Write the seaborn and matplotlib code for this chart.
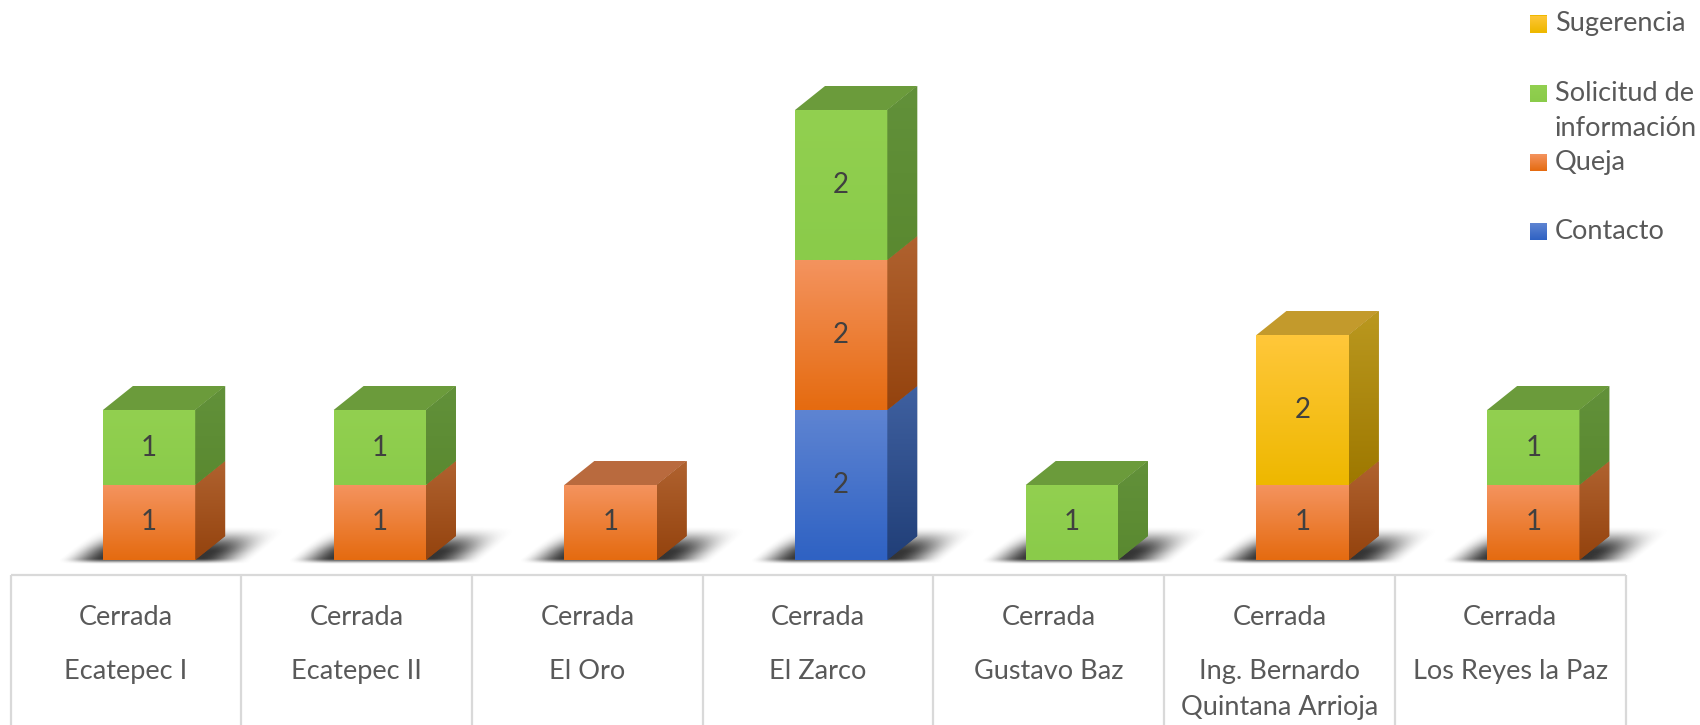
import numpy as np
import matplotlib
matplotlib.use("Agg")
import matplotlib.pyplot as plt
from matplotlib.patches import Polygon, Rectangle
from matplotlib.colors import LinearSegmentedColormap, to_rgb
import seaborn as sns

# data
prefix = "Cerrada"
lugares = ["Ecatepec I", "Ecatepec II", "El Oro", "El Zarco", "Gustavo Baz",
           "Ing. Bernardo\nQuintana Arrioja", "Los Reyes la Paz"]
series = ["Contacto", "Queja", "Solicitud de\ninformación", "Sugerencia"]
contacto = [0, 0, 0, 2, 0, 0, 0]
queja = [1, 1, 1, 2, 0, 1, 1]
solicitud = [1, 1, 0, 2, 1, 0, 1]
sugerencia = [0, 0, 0, 0, 0, 2, 0]
valores = [contacto, queja, solicitud, sugerencia]

# colours: (front top, front bottom, side top, side bottom, top face)
colores = [
    ("#5E84D2", "#2F62C3", "#3F60A0", "#213F78", "#3D5FA0"),
    ("#F4935E", "#E56B10", "#B0622F", "#94430E", "#B96A3E"),
    ("#92D050", "#8ACB4A", "#62913A", "#5A8930", "#6B9B3B"),
    ("#FFC73A", "#EEB800", "#BA981F", "#9E7800", "#C39A2C"),
]

sns.set_theme(style="white")
plt.rcParams['font.family'] = ['Lato', 'DejaVu Sans']

fig = plt.figure(figsize=(17, 7.25), dpi=100)
ax = fig.add_axes([0, 0, 1, 1])
ax.set_axis_off()

xl_off, ancho = -0.1, 0.4
dx, dy = 0.13, 0.32


def degradado(patch, top, bottom, z):
    if isinstance(patch, Rectangle):
        ext = patch.get_path().get_extents(patch.get_patch_transform())
    else:
        ext = patch.get_path().get_extents()
    cmap = LinearSegmentedColormap.from_list("g", [bottom, top])
    im = ax.imshow(np.linspace(0, 1, 64).reshape(-1, 1), cmap=cmap,
                   extent=(ext.x0, ext.x1, ext.y0, ext.y1), origin="lower",
                   aspect="auto", zorder=z, interpolation="bilinear")
    im.set_clip_path(patch)


def ramp(v, a, b):
    t = np.clip((v - a) / (b - a), 0, 1)
    return t * t * (3 - 2 * t)


n = len(lugares)
x = np.arange(n)
totales = np.sum(valores, axis=0)

# shadows
for i in range(n):
    if totales[i] == 0:
        continue
    xl, xr = i + xl_off, i + xl_off + ancho
    gx = np.linspace(xl - 0.3, xr + dx + 0.4, 300)
    gy = np.linspace(-0.08, 0.5, 80)
    X, Y = np.meshgrid(gx, gy)
    u = X - np.clip(Y, 0, None) / dy * dx
    sx = ramp(u, xl - 0.2, xl + 0.0) * (1 - ramp(u, xr + 0.02, xr + 0.25))
    sy = ramp(Y, -0.06, 0.02) * (1 - ramp(Y, 0.1, 0.45))
    img = np.zeros((len(gy), len(gx), 4))
    img[..., :3] = to_rgb("#2A2A2A")
    img[..., 3] = 0.95 * sx * sy
    ax.imshow(img, extent=(gx[0], gx[-1], gy[0], gy[-1]), origin="lower",
              aspect="auto", zorder=1, interpolation="bilinear")

# stacked 3D bars
base = np.zeros(n)
for k, vals in enumerate(valores):
    vals = np.array(vals, dtype=float)
    ftop, fbot, stop, sbot, tcol = colores[k]
    barras = ax.bar(x + xl_off, vals, width=ancho, bottom=base, align="edge",
                    color=fbot, linewidth=0, zorder=3)
    for i, rect in enumerate(barras):
        v = vals[i]
        if v == 0:
            continue
        b = base[i]
        xl, xr = i + xl_off, i + xl_off + ancho
        degradado(rect, ftop, fbot, 3.5)
        lado = Polygon([(xr, b), (xr + dx, b + dy), (xr + dx, b + v + dy), (xr, b + v)],
                       closed=True, facecolor=sbot, linewidth=0, zorder=3)
        ax.add_patch(lado)
        degradado(lado, stop, sbot, 3.5)
        if b + v == totales[i]:
            tapa = Polygon([(xl, b + v), (xl + dx, b + v + dy), (xr + dx, b + v + dy), (xr, b + v)],
                           closed=True, facecolor=tcol, linewidth=0, zorder=3)
            ax.add_patch(tapa)
        ax.text(i + xl_off + ancho / 2, b + v / 2, f"{int(v)}", ha="center", va="center",
                fontsize=20, color="#404040", zorder=5)
    base = base + vals

# category table
lc = "#D9D9D9"
ax.plot([-0.5, n - 0.5], [-0.2, -0.2], color=lc, lw=1.6, zorder=2, solid_capstyle="butt")
for j in range(n + 1):
    ax.plot([j - 0.5, j - 0.5], [-0.2, -2.3], color=lc, lw=1.6, zorder=2, solid_capstyle="butt")
for i, nombre in enumerate(lugares):
    ax.text(i, -0.773, prefix, ha="center", va="center", fontsize=19.5, color="#595959")
    for j, linea in enumerate(nombre.split("\n")):
        ax.text(i, -1.493 - 0.467 * j, linea, ha="center", va="center", fontsize=19.5, color="#595959")

# legend (reverse order, Excel style)
for k, nombre in enumerate(series[::-1]):
    col = colores[len(series) - 1 - k]
    yc = 24 + 69.3 * k
    cuadro = Rectangle((1530 / 1700, 1 - (yc + 8.5) / 725), 17 / 1700, 17 / 725,
                       transform=fig.transFigure, facecolor=col[1], linewidth=0, zorder=3)
    ax.add_patch(cuadro)
    cmap = LinearSegmentedColormap.from_list("g", [col[1], col[0]])
    im = ax.imshow(np.linspace(0, 1, 32).reshape(-1, 1), cmap=cmap, origin="lower",
                   aspect="auto", zorder=3.5, transform=fig.transFigure,
                   extent=(1530 / 1700, 1547 / 1700, 1 - (yc + 8.5) / 725, 1 - (yc - 8.5) / 725))
    im.set_clip_path(cuadro)
    for j, linea in enumerate(nombre.split("\n")):
        fig.text(1555 / 1700, 1 - (yc + 35 * j) / 725, linea, ha="left", va="center",
                 fontsize=19.5, color="#595959")

ax.set_xlim(-126 / 230.7, (1700 - 126) / 230.7)
ax.set_ylim(-165 / 75, 560 / 75)

fig.savefig("out.png", dpi=100)
